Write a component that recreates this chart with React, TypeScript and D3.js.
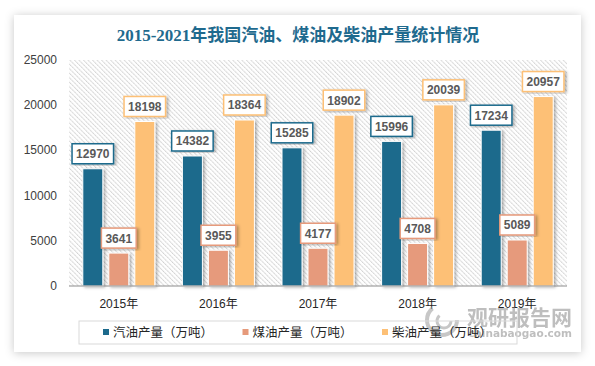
import React, { useEffect, useRef } from "react";
import * as d3 from "d3";

const years = ["2015年", "2016年", "2017年", "2018年", "2019年"];
const seriesNames = ["汽油产量（万吨）", "煤油产量（万吨）", "柴油产量（万吨）"];
const gasoline = [12970, 14382, 15285, 15996, 17234];
const kerosene = [3641, 3955, 4177, 4708, 5089];
const diesel = [18198, 18364, 18902, 20039, 20957];
const yTicks = [0, 5000, 10000, 15000, 20000, 25000];
const colors = ["#1c6a8c", "#e69a7b", "#fdc076"];

const App = () => {
    const svgRef = useRef<SVGSVGElement>(null);

    useEffect(() => {
        const svg = d3.select(svgRef.current);
        svg.selectAll("*").remove();

        const width = 595;
        const height = 366;
        const plot = { left: 69, right: 567, top: 60, bottom: 286 };
        const values = [gasoline, kerosene, diesel];

        const defs = svg.append("defs");

        // card shadow
        const cardShadow = defs.append("filter").attr("id", "cardShadow")
            .attr("x", "-10%").attr("y", "-10%").attr("width", "120%").attr("height", "120%");
        cardShadow.append("feDropShadow").attr("dx", 0).attr("dy", 1)
            .attr("stdDeviation", 5).attr("flood-color", "#000").attr("flood-opacity", 0.22);

        // bar shadow
        const barShadow = defs.append("filter").attr("id", "barShadow")
            .attr("x", "-30%").attr("y", "-10%").attr("width", "160%").attr("height", "120%");
        barShadow.append("feDropShadow").attr("dx", 2).attr("dy", 1)
            .attr("stdDeviation", 1.5).attr("flood-color", "#000").attr("flood-opacity", 0.3);

        // hatch pattern for the plot area
        const hatch = defs.append("pattern").attr("id", "hatch")
            .attr("patternUnits", "userSpaceOnUse")
            .attr("width", 3.2).attr("height", 3.2)
            .attr("patternTransform", "rotate(-45)");
        hatch.append("rect").attr("width", 3.2).attr("height", 3.2).attr("fill", "#fff");
        hatch.append("line").attr("x1", 0.5).attr("y1", 0).attr("x2", 0.5).attr("y2", 3.2)
            .attr("stroke", "#cfcfcf").attr("stroke-width", 1).attr("stroke-dasharray", "1.2,0.6");

        svg.append("rect").attr("width", width).attr("height", height).attr("fill", "#fff");
        svg.append("rect")
            .attr("x", 14).attr("y", 15).attr("width", 567).attr("height", 337)
            .attr("fill", "#fff").attr("filter", "url(#cardShadow)");

        // title
        svg.append("text")
            .attr("x", 298).attr("y", 41)
            .attr("text-anchor", "middle")
            .attr("font-family", "'Liberation Serif', 'Noto Sans CJK SC', serif")
            .attr("font-weight", "bold")
            .attr("font-size", 17)
            .attr("fill", "#1f6a8e")
            .text("2015-2021年我国汽油、煤油及柴油产量统计情况");

        const x0 = d3.scaleBand().domain(years).range([plot.left, plot.right]);
        const x1 = d3.scaleBand().domain(seriesNames).range([0, 72]).paddingInner(0.2308);
        const y = d3.scaleLinear().domain([0, 25000]).range([plot.bottom, plot.top]);

        svg.append("rect")
            .attr("x", plot.left).attr("y", plot.top)
            .attr("width", plot.right - plot.left).attr("height", plot.bottom - plot.top)
            .attr("fill", "url(#hatch)");

        // y axis labels
        svg.selectAll(".ytick")
            .data(yTicks)
            .join("text")
            .attr("class", "ytick")
            .attr("x", 57)
            .attr("y", (d) => y(d) + 4)
            .attr("text-anchor", "end")
            .attr("font-family", "'Liberation Sans', Arial, sans-serif")
            .attr("font-size", 12)
            .attr("fill", "#404040")
            .text((d) => d);

        // bars
        const groups = svg.selectAll(".group")
            .data(years)
            .join("g")
            .attr("class", "group")
            .attr("transform", (d) => `translate(${x0(d)! + x0.bandwidth() / 2 - 36},0)`);

        seriesNames.forEach((name, si) => {
            groups.append("rect")
                .attr("x", x1(name)!)
                .attr("y", (d, i) => y(values[si][i]))
                .attr("width", x1.bandwidth())
                .attr("height", (d, i) => plot.bottom - y(values[si][i]))
                .attr("fill", colors[si])
                .attr("stroke", "#fff")
                .attr("stroke-width", 1)
                .attr("filter", "url(#barShadow)");
        });

        // axis line
        svg.append("line")
            .attr("x1", plot.left).attr("x2", plot.right)
            .attr("y1", plot.bottom).attr("y2", plot.bottom)
            .attr("stroke", "#8c8c8c").attr("stroke-width", 1);

        // value labels
        seriesNames.forEach((name, si) => {
            groups.each(function (d, i) {
                const v = values[si][i];
                const txt = String(v);
                const w = txt.length * 6.7 + 8;
                const cx = x1(name)! + x1.bandwidth() / 2;
                const top = y(v) - 5 - 20;
                const g = d3.select(this);
                g.append("rect")
                    .attr("x", cx - w / 2).attr("y", top)
                    .attr("width", w).attr("height", 20)
                    .attr("fill", "#fff")
                    .attr("stroke", colors[si])
                    .attr("stroke-width", 1.5)
                    .attr("filter", "url(#barShadow)");
                g.append("text")
                    .attr("x", cx).attr("y", top + 14.5)
                    .attr("text-anchor", "middle")
                    .attr("font-family", "'Liberation Sans', Arial, sans-serif")
                    .attr("font-weight", "bold")
                    .attr("font-size", 12)
                    .attr("fill", "#595959")
                    .text(txt);
            });
        });

        // x labels
        svg.selectAll(".xlabel")
            .data(years)
            .join("text")
            .attr("class", "xlabel")
            .attr("x", (d) => x0(d)! + x0.bandwidth() / 2)
            .attr("y", 308)
            .attr("text-anchor", "middle")
            .attr("font-family", "'Liberation Sans', 'Noto Sans CJK SC', sans-serif")
            .attr("font-size", 12)
            .attr("fill", "#262626")
            .text((d) => d);

        // watermark
        const wm = svg.append("g").attr("opacity", 0.55);
        wm.append("circle").attr("cx", 442).attr("cy", 320).attr("r", 15)
            .attr("fill", "none").attr("stroke", "#9a9a9a").attr("stroke-width", 4)
            .attr("stroke-dasharray", "60,35");
        wm.append("circle").attr("cx", 444).attr("cy", 321).attr("r", 7)
            .attr("fill", "none").attr("stroke", "#9a9a9a").attr("stroke-width", 3)
            .attr("stroke-dasharray", "28,16");
        wm.append("text").attr("x", 467).attr("y", 325)
            .attr("font-family", "'Noto Sans CJK SC', sans-serif")
            .attr("font-weight", "bold").attr("font-size", 21)
            .attr("fill", "#8a8a8a")
            .text("观研报告网");
        wm.append("text").attr("x", 572).attr("y", 337).attr("text-anchor", "end")
            .attr("font-family", "'DejaVu Sans', sans-serif")
            .attr("font-weight", "bold").attr("font-size", 10.5)
            .attr("fill", "#8a8a8a")
            .text("chinabaogao.com");

        // legend
        svg.append("rect")
            .attr("x", 79).attr("y", 321).attr("width", 438).attr("height", 23)
            .attr("fill", "none").attr("stroke", "#d9d9d9").attr("stroke-width", 1);
        const legend = svg.selectAll(".legend")
            .data(seriesNames)
            .join("g")
            .attr("class", "legend")
            .attr("transform", (d, i) => `translate(${103 + i * 139.5},332)`);
        legend.append("rect")
            .attr("x", 0).attr("y", -3).attr("width", 6).attr("height", 6)
            .attr("fill", (d, i) => colors[i]);
        legend.append("text")
            .attr("x", 10).attr("y", 4.5)
            .attr("font-family", "'Noto Sans CJK SC', sans-serif")
            .attr("font-size", 12.5)
            .attr("fill", "#262626")
            .text((d) => d);
    }, []);

    return (
        <svg
            ref={svgRef}
            width={595}
            height={366}
            style={{ position: "absolute", left: 0, top: 0 }}
        ></svg>
    );
};

export default App;
